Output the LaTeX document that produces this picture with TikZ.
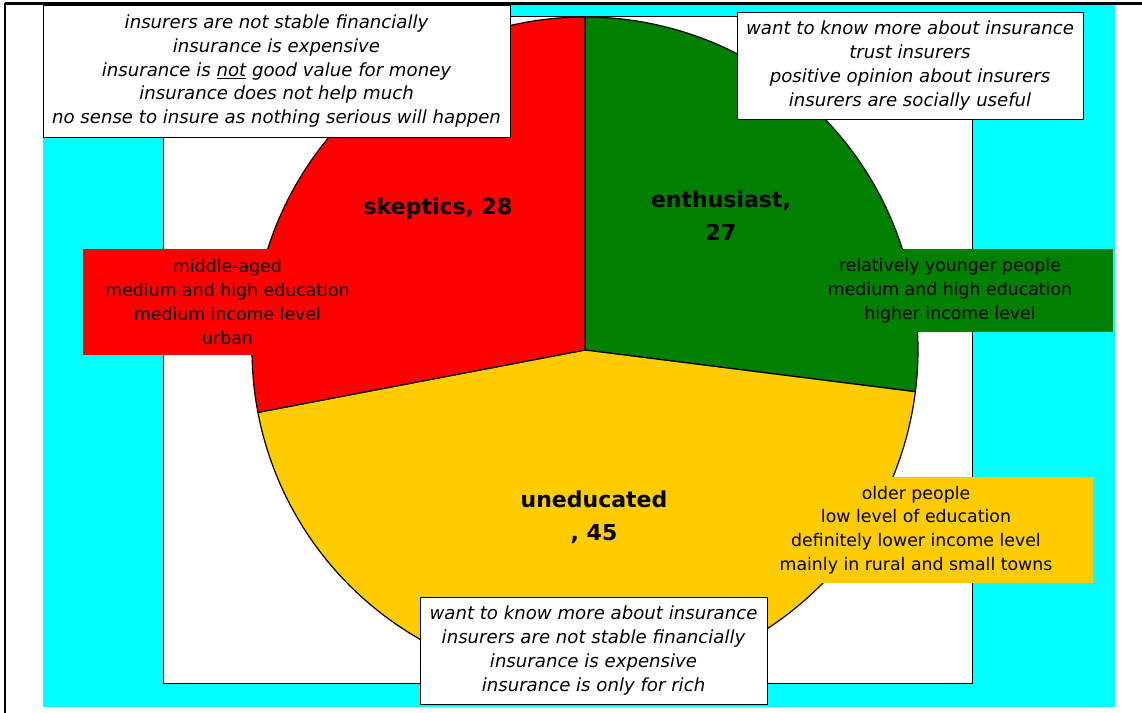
\documentclass[tikz,border=0pt]{standalone}
\usepackage{fontspec}
\setmainfont{DejaVu Sans}
\usetikzlibrary{positioning}

\definecolor{pieRed}{HTML}{FF0000}
\definecolor{pieGreen}{HTML}{008000}
\definecolor{pieYellow}{HTML}{FFCC00}
\definecolor{chartCyan}{HTML}{00FFFF}

\tikzset{
  slice/.style={draw=black,line width=0.9pt,line join=round},
  notebox/.style={draw=black,fill=white,line width=0.7pt,inner sep=0pt,
    align=center,font=\fontsize{13.6}{17.8}\selectfont\itshape},
  tagbox/.style={inner sep=0pt,align=center,font=\fontsize{13}{17.8}\selectfont},
  pielabel/.style={inner sep=0pt,align=center,font=\fontsize{16.5}{24.75}\selectfont\bfseries}
}

\begin{document}
\begin{tikzpicture}[x=0.75pt,y=-0.75pt]
  \useasboundingbox (0,0) rectangle (1142,713);

  % Chart and plot areas
  \fill[chartCyan] (43,5) rectangle (1115,707);
  \draw[black,line width=0.7pt,fill=white] (163,16) rectangle (972,683);

  % Pie (y turned up again inside)
  \begin{scope}[shift={(585,350)},y=0.75pt]
    \filldraw[slice,fill=pieGreen] (0,0) -- (90:333) arc[start angle=90,end angle=-7.2,radius=333] -- cycle;
    \filldraw[slice,fill=pieYellow] (0,0) -- (-7.2:333) arc[start angle=-7.2,end angle=-169.2,radius=333] -- cycle;
    \filldraw[slice,fill=pieRed] (0,0) -- (-169.2:333) arc[start angle=-169.2,end angle=-270,radius=333] -- cycle;
  \end{scope}

  % Slice labels
  \node[pielabel] (skeptics) at (438,208) {skeptics, 28};
  \node[pielabel] (enthusiast) at (721,216) {enthusiast,\\27};
  \node[pielabel] (uneducated) at (594,517) {uneducated\\, 45};

  % Profile tags
  \node[tagbox,fill=pieRed,minimum width=216.75pt,minimum height=79.5pt] (skepTag) at (227.5,302)
    {middle-aged\\medium and high education\\medium income level\\urban};
  \node[tagbox,fill=pieGreen,minimum width=244.5pt,minimum height=62.25pt] (enthTag) at (950,290.5)
    {relatively younger people\\medium and high education\\higher income level};
  \node[tagbox,fill=pieYellow,minimum width=265.5pt,minimum height=79.5pt] (unedTag) at (916,530)
    {older people\\low level of education\\definitely lower income level\\mainly in rural and small towns};

  % Opinion boxes
  \node[notebox,minimum width=350.25pt,minimum height=99pt] (skepNote) at (276.5,71)
    {insurers are not stable financially\\insurance is expensive\\insurance is \underline{not} good value for money\\insurance does not help much\\no sense to insure as nothing serious will happen};
  \node[notebox,minimum width=259.5pt,minimum height=80.25pt] (enthNote) at (910,65.5)
    {want to know more about insurance\\trust insurers\\positive opinion about insurers\\insurers are socially useful};
  \node[notebox,minimum width=260.25pt,minimum height=80.25pt] (unedNote) at (593.5,650.5)
    {want to know more about insurance\\insurers are not stable financially\\insurance is expensive\\insurance is only for rich};

  % Frame lines
  \draw[black,line width=2.25pt] (5,4) -- (1142,4);
  \draw[black,line width=1.5pt] (5,3) -- (5,713);
\end{tikzpicture}
\end{document}
